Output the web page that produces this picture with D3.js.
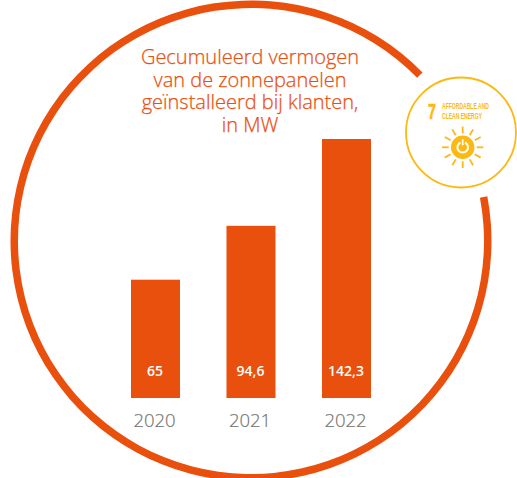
<!DOCTYPE html>
<html><head><meta charset="utf-8">
<script src="https://cdn.jsdelivr.net/npm/d3@7"></script>
<style>html,body{margin:0;background:#fff}svg{display:block}</style></head>
<body><svg id="c" width="517" height="478"></svg>
<script>
const years = ["2020","2021","2022"];
const values = [65,94.6,142.3];
const valueLabels = ["65","94,6","142,3"];
const titleLines = ["Gecumuleerd vermogen","van de zonnepanelen","geïnstalleerd bij klanten,","in MW"];
const sdgNumber = "7";
const sdgLines = ["AFFORDABLE AND","CLEAN ENERGY"];
const orange="#e9500e", yellow="#fcb813", grey="#757575";
const font="'Open Sans',sans-serif";
const svg=d3.select("#c");
const deg=Math.PI/180;
// big ring with a gap behind the badge
svg.append("path").attr("transform","translate(251,241)")
 .attr("d",d3.arc().innerRadius(233).outerRadius(240.5).startAngle(79.3*deg).endAngle(360*deg+45.5*deg)())
 .attr("fill",orange);
// bars
const x=d3.scaleBand().domain(years).range([107.75,394.25]).paddingInner(0);
const y=d3.scaleLinear().domain([0,142.3]).range([398,139]);
const bw=49;
const cx=d=>x(d)+x.bandwidth()/2;
svg.selectAll("rect.bar").data(values).join("rect").attr("class","bar")
 .attr("x",(d,i)=>cx(years[i])-bw/2).attr("width",bw)
 .attr("y",d=>y(d)).attr("height",d=>y(0)-y(d)).attr("fill",orange);
svg.selectAll("text.val").data(valueLabels).join("text").attr("class","val")
 .attr("x",(d,i)=>cx(years[i])-0.5).attr("y",376).attr("text-anchor","middle")
 .attr("font-family",font).attr("font-weight",600).attr("font-size",14).attr("fill","#fff").text(d=>d);
svg.selectAll("text.yr").data(years).join("text").attr("class","yr")
 .attr("x",d=>cx(d)-1).attr("y",427).attr("text-anchor","middle")
 .attr("font-family",font).attr("font-weight",300).attr("font-size",18.5).attr("fill",grey)
 .attr("stroke",grey).attr("stroke-width",0.2).text(d=>d);
// title as one block
const title=svg.append("text").attr("text-anchor","middle")
 .attr("font-family",font).attr("font-weight",300).attr("font-size",20).attr("fill","#e9500e")
 .attr("stroke","#e9500e").attr("stroke-width",0.25);
title.selectAll("tspan").data(titleLines).join("tspan")
 .attr("x",250).attr("y",(d,i)=>64+i*22.5).text(d=>d);
// SDG badge
const b=svg.append("g").attr("transform","translate(461,132.5)");
b.append("circle").attr("r",55).attr("fill","#fff").attr("stroke",yellow).attr("stroke-width",1.8);
b.append("text").attr("x",-33).attr("y",-13.5).attr("font-family","'Liberation Sans',sans-serif")
 .attr("font-weight",700).attr("font-size",22).attr("textLength",8).attr("lengthAdjust","spacingAndGlyphs")
 .attr("fill",yellow).attr("stroke",yellow).attr("stroke-width",0.6).text(sdgNumber);
b.selectAll("text.s").data(sdgLines).join("text").attr("class","s").attr("x",-19).attr("y",(d,i)=>-23.5+i*10)
 .attr("font-family","'Liberation Sans',sans-serif").attr("font-weight",700).attr("font-size",8.2)
 .attr("textLength",(d,i)=>i?40:47).attr("lengthAdjust","spacingAndGlyphs").attr("fill",yellow).text(d=>d);
const icon=b.append("g").attr("transform","translate(1.7,14.8)");
const rays=d3.range(12).map(i=>i*30);
icon.selectAll("line").data(rays).join("line")
 .attr("transform",d=>`rotate(${d})`).attr("x1",0).attr("x2",0).attr("y1",-14).attr("y2",-20.7)
 .attr("stroke",yellow).attr("stroke-width",1.8);
icon.append("circle").attr("r",11.7).attr("fill",yellow);
icon.append("path").attr("d",d3.arc().innerRadius(4.3).outerRadius(6.3).startAngle(25*deg).endAngle(335*deg)()).attr("fill","#fff");
icon.append("line").attr("y1",-8).attr("y2",-2).attr("stroke","#fff").attr("stroke-width",1.8);
</script></body></html>
